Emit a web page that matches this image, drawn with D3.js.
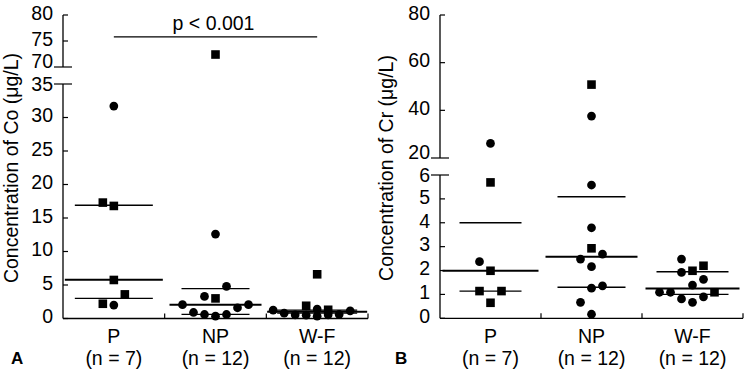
<!DOCTYPE html>
<html>
<head>
<meta charset="utf-8">
<script src="https://cdn.jsdelivr.net/npm/d3@7"></script>
<style>
  html, body { margin: 0; padding: 0; background: #fff; }
  svg { display: block; font-family: "Liberation Sans", Arial, sans-serif; }
</style>
</head>
<body>
<svg id="chart" width="750" height="373"></svg>
<script>
// groups on the x axis
var groups = ['P', 'NP', 'W-F'];
var groupN = [7, 12, 12];

// points: [value, shape, slot] (slot = side-by-side jitter position)
var coP = [[31.7,'circle',0],[17.3,'square',-1],[16.8,'square',0],[5.75,'square',0],[3.6,'square',1],[2.2,'square',-1],[2.0,'circle',0]];
var coNP = [[72.4,'square',0],[12.6,'circle',0],[4.8,'circle',1],[3.3,'circle',-1],[3.0,'square',0],[2.06,'circle',-3],[2.06,'circle',3],[1.6,'circle',2],[0.9,'circle',-2],[0.6,'circle',-1],[0.35,'circle',0],[0.6,'circle',1]];
var coWF = [[1.25,'circle',-4],[0.8,'circle',-3],[0.55,'circle',-2],[0.5,'circle',-1],[1.9,'square',-1],[1.4,'circle',0],[0.35,'circle',0],[6.6,'square',0],[1.3,'square',1],[0.55,'circle',1],[0.6,'circle',2],[1.15,'circle',3]];
var coMedian = [5.8, 2.06, 1.0];
var coQ1 = [3.0, 0.63, 0.8];
var coQ3 = [16.9, 4.45, 1.25];

var crP = [[26.1,'circle',0],[5.69,'square',0],[2.37,'circle',-1],[1.99,'square',0],[1.14,'square',-1],[1.14,'square',1],[0.65,'square',0]];
var crNP = [[50.8,'square',0],[37.6,'circle',0],[5.58,'circle',0],[3.79,'circle',0],[2.93,'square',0],[2.69,'circle',1],[2.48,'circle',-1],[2.16,'circle',0],[1.36,'circle',1],[1.26,'circle',0],[0.67,'circle',-1],[0.17,'circle',0]];
var crWF = [[2.48,'circle',-1],[2.2,'square',1],[1.92,'circle',-1],[1.99,'square',0],[1.63,'circle',1],[1.39,'circle',0],[1.09,'circle',-3],[1.09,'circle',-2],[1.09,'square',2],[0.81,'circle',-1],[0.67,'circle',0],[0.9,'circle',1]];
var crMedian = [1.99, 2.58, 1.25];
var crQ1 = [1.14, 1.3, 1.0];
var crQ3 = [4.0, 5.09, 1.95];

// broken y axis: lower and upper segments
var coLowerTicks = [0, 5, 10, 15, 20, 25, 30, 35];
var coUpperTicks = [70, 75, 80];
var crLowerTicks = [0, 1, 2, 3, 4, 5, 6];
var crUpperTicks = [20, 40, 60, 80];

var svg = d3.select('#chart');
var FONT = 19.5;

function drawPanel(cfg){
    var g = svg.append('g');

    var x = d3.scaleBand().domain(groups).range([cfg.left, cfg.right]);
    var lower = d3.scaleLinear().domain(d3.extent(cfg.lowerTicks)).range([cfg.bottom, cfg.lowerTop]);
    var upper = d3.scaleLinear().domain(d3.extent(cfg.upperTicks)).range([cfg.upperBottom, cfg.top]);
    var breakV = d3.min(cfg.upperTicks);
    var y = function(v){ return v >= breakV ? upper(v) : lower(v); };
    var cx = function(i){ return x(groups[i]) + x.bandwidth()/2; };

    //Axis lines
    g.append('line').attr('x1',cfg.left).attr('x2',cfg.left).attr('y1',cfg.bottom).attr('y2',cfg.lowerTop)
        .attr('stroke','#000').attr('stroke-width',1.3);
    g.append('line').attr('x1',cfg.left).attr('x2',cfg.left).attr('y1',cfg.upperBottom).attr('y2',cfg.top)
        .attr('stroke','#000').attr('stroke-width',1.3);
    g.append('line').attr('x1',cfg.left).attr('x2',cfg.right).attr('y1',cfg.bottom).attr('y2',cfg.bottom)
        .attr('stroke','#000').attr('stroke-width',1.3);

    //x ticks at group boundaries
    g.selectAll('.xtick').data(groups).enter().append('line')
        .attr('x1',function(d){ return x(d) + x.bandwidth(); })
        .attr('x2',function(d){ return x(d) + x.bandwidth(); })
        .attr('y1',cfg.bottom).attr('y2',cfg.bottom - 5)
        .attr('stroke','#000').attr('stroke-width',1.2);

    //y ticks and labels (labels at the break are nudged apart)
    var ticks = cfg.lowerTicks.map(function(t){ return {v:t, y:lower(t), brk: t === d3.max(cfg.lowerTicks), nudge: t === d3.max(cfg.lowerTicks) ? 2 : 0}; })
        .concat(cfg.upperTicks.map(function(t){ return {v:t, y:upper(t), brk: t === breakV, nudge: t === breakV ? -3.5 : 0}; }));
    g.selectAll('.ytick').data(ticks).enter().append('line')
        .attr('x1',function(d){ return d.brk ? cfg.left - 9 : cfg.left; })
        .attr('x2',function(d){ return d.brk ? cfg.left + 9 : cfg.left + 5; })
        .attr('y1',function(d){ return d.y; }).attr('y2',function(d){ return d.y; })
        .attr('stroke','#000').attr('stroke-width',1.2);
    g.selectAll('.ylab').data(ticks).enter().append('text')
        .attr('x',cfg.left - 10)
        .attr('y',function(d){ return d.y - 2 + d.nudge; })
        .attr('dy','0.35em')
        .attr('font-size',FONT+'px')
        .style('text-anchor','end')
        .text(function(d){ return d.v; });

    //y title
    g.append('text')
        .attr('transform','translate(' + cfg.titleX + ',' + cfg.titleY + ') rotate(-90)')
        .attr('font-size',FONT+'px')
        .style('text-anchor','middle')
        .text(cfg.title);

    //x labels
    g.selectAll('.xlab').data(groups).enter().append('text')
        .attr('x',function(d,i){ return cx(i); }).attr('y',342.5)
        .attr('font-size',FONT+'px').style('text-anchor','middle')
        .text(function(d){ return d; });
    g.selectAll('.xlabn').data(groupN).enter().append('text')
        .attr('x',function(d,i){ return cx(i); }).attr('y',365)
        .attr('font-size',FONT+'px').style('text-anchor','middle')
        .text(function(d){ return '(n = ' + d + ')'; });

    //panel letter
    g.append('text').attr('x',cfg.letterX).attr('y',363.5)
        .attr('font-size','17px').attr('font-weight','bold')
        .text(cfg.letter);

    //median and quartile lines
    cfg.median.forEach(function(v,i){
        g.append('line').attr('x1',cx(i) - cfg.medHalf[i]).attr('x2',cx(i) + cfg.medHalf[i])
            .attr('y1',y(v)).attr('y2',y(v)).attr('stroke','#000').attr('stroke-width',2);
    });
    [cfg.q1, cfg.q3].forEach(function(arr){
        arr.forEach(function(v,i){
            g.append('line').attr('x1',cx(i) - cfg.qHalf[i]).attr('x2',cx(i) + cfg.qHalf[i])
                .attr('y1',y(v)).attr('y2',y(v)).attr('stroke','#000').attr('stroke-width',1.3);
        });
    });

    //points
    var pts = [];
    cfg.points.forEach(function(arr,i){
        arr.forEach(function(p){ pts.push({gi:i, v:p[0], shape:p[1], slot:p[2]}); });
    });
    var circle = d3.symbol().type(d3.symbolCircle).size(60);
    var square = d3.symbol().type(d3.symbolSquare).size(74);
    g.selectAll('.pt').data(pts).enter().append('path')
        .attr('d',function(d){ return d.shape === 'square' ? square() : circle(); })
        .attr('transform',function(d){ return 'translate(' + (cx(d.gi) + d.slot*11) + ',' + y(d.v) + ')'; })
        .attr('fill','#000');

    return {x:x, y:y, cx:cx};
}

var a = drawPanel({
    left:63, right:368, bottom:318.5, lowerTop:84, upperBottom:67, top:15,
    lowerTicks:coLowerTicks, upperTicks:coUpperTicks,
    title:'Concentration of Co (\u03bcg/L)', titleX:18, titleY:168,
    letter:'A', letterX:11,
    points:[coP, coNP, coWF], median:coMedian, q1:coQ1, q3:coQ3,
    medHalf:[49, 46, 50], qHalf:[39, 34, 40]
});

drawPanel({
    left:440, right:743, bottom:318.3, lowerTop:175, upperBottom:158, top:15,
    lowerTicks:crLowerTicks, upperTicks:crUpperTicks,
    title:'Concentration of Cr (\u03bcg/L)', titleX:393, titleY:168,
    letter:'B', letterX:395,
    points:[crP, crNP, crWF], median:crMedian, q1:crQ1, q3:crQ3,
    medHalf:[48, 46, 47], qHalf:[31, 34, 36]
});

//significance bar between P and W-F
var pY = a.y(75.8);
svg.append('line').attr('x1',a.cx(0)).attr('x2',a.cx(2)).attr('y1',pY).attr('y2',pY)
    .attr('stroke','#000').attr('stroke-width',1.3);
svg.append('text').attr('x',a.cx(1) - 2).attr('y',pY - 7)
    .attr('font-size',FONT+'px').style('text-anchor','middle')
    .text('p < 0.001');
</script>
</body>
</html>
